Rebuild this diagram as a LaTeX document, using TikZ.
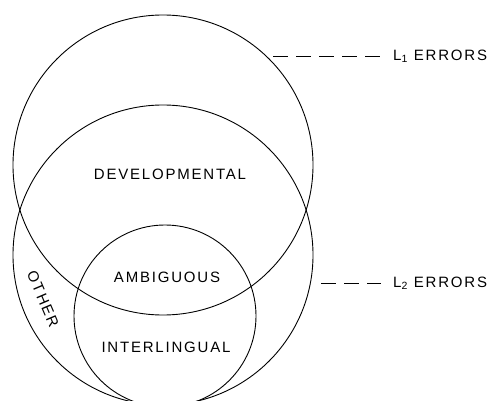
\documentclass[tikz,border=0pt]{standalone}
\usepackage{fontspec}
\setmainfont{Liberation Sans}[LetterSpace=12]
\usepackage{tikz}

\begin{document}
\begin{tikzpicture}[x=1pt,y=-1pt,
    set/.style={circle,draw,line width=0.9pt,inner sep=0pt},
    lbl/.style={font=\fontsize{15}{17}\selectfont,inner sep=0pt},
    lead/.style={line width=0.9pt,dash pattern=on 15pt off 8pt}]
    \clip (0,0) rectangle (495,401);
    \node[set,minimum size=300pt] (lone) at (163,165) {};
    \node[set,minimum size=300pt] (ltwo) at (163,255) {};
    \node[set,minimum size=182pt] (inter) at (165,316) {};
    \node[lbl] (dev) at (170,174) {DEVELOPMENTAL};
    \node[lbl] (amb) at (167,277) {AMBIGUOUS};
    \node[lbl] (intl) at (166,347) {INTERLINGUAL};
    \node[lbl,rotate=-67] (other) at (43,299) {OTHER};
    \node[lbl,anchor=west] (eone) at (393,56) {L\textsubscript{1} ERRORS};
    \node[lbl,anchor=west] (etwo) at (393,283) {L\textsubscript{2} ERRORS};
    \coordinate (sone) at (273,56);
    \coordinate (stwo) at (321,283);
    \draw[lead] (sone) -- ([xshift=-12pt]eone.west);
    \draw[lead] (stwo) -- ([xshift=-12pt]etwo.west);
  \end{tikzpicture}
\end{document}
